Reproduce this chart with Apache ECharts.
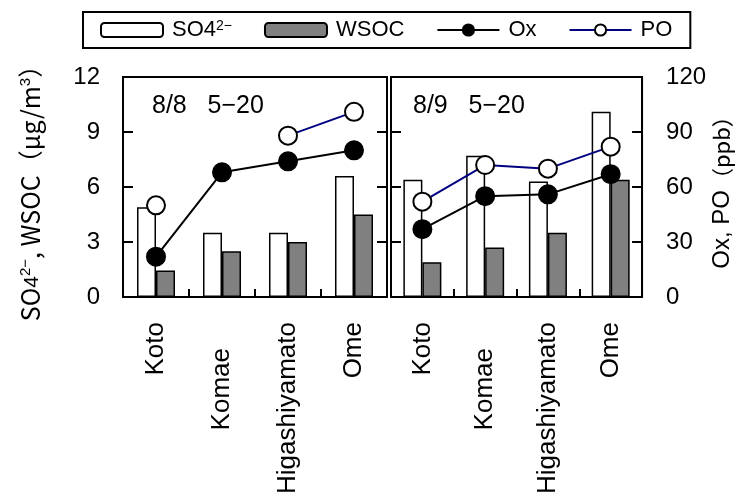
<!DOCTYPE html>
<html>
<head>
<meta charset="utf-8">
<script src="https://cdn.jsdelivr.net/npm/echarts@6/dist/echarts.min.js"></script>
<style>
  html, body { margin: 0; padding: 0; background: #fff; }
  #chart { width: 735px; height: 497px; }
</style>
</head>
<body>
<div id="chart"></div>
<script>
// sites (same order in both panels)
const sites = ['Koto', 'Komae', 'Higashiyamato', 'Ome'];

// 8/8 5-20
const so4Day1 = [4.9, 3.5, 3.5, 6.6];
const wsocDay1 = [1.45, 2.5, 3.0, 4.5];
const oxDay1 = [22, 68, 74, 80];
const poDay1 = [50, null, 88, 101];

// 8/9 5-20
const so4Day2 = [6.4, 7.7, 6.3, 10.1];
const wsocDay2 = [1.9, 2.7, 3.5, 6.4];
const oxDay2 = [37, 55, 56, 67];
const poDay2 = [52, 72, 70, 82];

const panelTitles = ['8/8   5\u221220', '8/9   5\u221220'];
const concTicks = [0, 3, 6, 9, 12];   // left axis, ug/m3
const ppbTicks = [0, 30, 60, 90, 120]; // right axis, ppb

const FONT = '"Liberation Sans", Arial, "Noto Sans CJK JP", sans-serif';
const JP = '"Noto Sans CJK JP", "Liberation Sans", sans-serif';

const myChart = echarts.init(document.getElementById('chart'));

const tickLine = { color: '#000', width: 2 };

function xAxisFor(gridIndex) {
  return {
    type: 'category',
    gridIndex: gridIndex,
    data: sites,
    axisLine: { show: true, lineStyle: { color: '#000', width: 2 } },
    axisTick: { show: true, inside: true, length: 8, lineStyle: tickLine },
    axisLabel: {
      rotate: 90,
      margin: 25,
      color: '#000',
      fontSize: 26,
      fontFamily: FONT,
      formatter: v => v === 'Komae' ? '{k|' + v + '}' : v,
      rich: { k: { fontSize: 26, fontFamily: FONT, color: '#000', padding: [0, 26, 0, 0] } }
    }
  };
}

function yAxisFor(gridIndex, ticks, position, showLabel) {
  return {
    type: 'value',
    gridIndex: gridIndex,
    position: position,
    min: ticks[0],
    max: ticks[ticks.length - 1],
    interval: ticks[1] - ticks[0],
    splitLine: { show: false },
    axisLine: { show: true, lineStyle: { color: '#000', width: 2 } },
    axisTick: { show: true, inside: true, length: 10, lineStyle: tickLine },
    axisLabel: { show: showLabel, color: '#000', fontSize: 24, fontFamily: FONT, margin: position === 'left' ? 23 : 24 }
  };
}

const yAxes = [
  yAxisFor(0, concTicks, 'left', true),
  yAxisFor(0, ppbTicks, 'right', false),
  yAxisFor(1, concTicks, 'left', false),
  yAxisFor(1, ppbTicks, 'right', true)
];
yAxes[0].name = '{n|SO}{sub|4}{sup|2\u2212}{n|, WSOC（μg/m}{sup|3}{n|）}';
yAxes[0].nameLocation = 'middle';
yAxes[0].nameRotate = 90;
yAxes[0].nameGap = 80;
yAxes[0].nameTextStyle = {
  color: '#000',
  rich: {
    n: { fontSize: 25, fontFamily: JP, color: '#000' },
    sub: { fontSize: 21, fontFamily: FONT, color: '#000', verticalAlign: 'bottom' },
    sup: { fontSize: 15, fontFamily: FONT, color: '#000', verticalAlign: 'top' }
  }
};
yAxes[3].name = '{n|Ox, PO}{s|（ppb）}';
yAxes[3].nameLocation = 'middle';
yAxes[3].nameRotate = 90;
yAxes[3].nameGap = 52;
yAxes[3].nameTextStyle = {
  color: '#000',
  rich: {
    n: { fontSize: 24, fontFamily: FONT, color: '#000' },
    s: { fontSize: 22, fontFamily: JP, color: '#000' }
  }
};

function barSeries(name, data, gi, fill) {
  return {
    name: name,
    type: 'bar',
    xAxisIndex: gi,
    yAxisIndex: gi * 2,
    data: data,
    barWidth: 19,
    barGap: '0%',
    itemStyle: { color: fill, borderColor: '#000', borderWidth: 1.5 }
  };
}

function lineSeries(name, data, gi, lineColor, fill) {
  return {
    name: name,
    type: 'line',
    xAxisIndex: gi,
    yAxisIndex: gi * 2 + 1,
    data: data,
    symbol: 'circle',
    symbolSize: 18,
    lineStyle: { color: lineColor, width: 2 },
    itemStyle: { color: fill, borderColor: '#000', borderWidth: 2 },
    z: 5
  };
}

const option = {
  animation: false,
  legend: {
    data: ['SO4', 'WSOC', 'Ox', 'PO'],
    left: 83,
    top: 12,
    padding: [7, 18, 7, 17],
    itemGap: 32,
    itemWidth: 62,
    itemHeight: 14,
    borderColor: '#000',
    borderWidth: 2,
    textStyle: {
      color: '#000',
      fontSize: 22,
      fontFamily: FONT,
      rich: {
        n: { fontSize: 22, fontFamily: FONT, color: '#000', padding: [0, 0, 0, 4] },
        sup: { fontSize: 14, fontFamily: FONT, color: '#000', verticalAlign: 'top', padding: [0, 16, 0, 0] }
      }
    },
    formatter: name => name === 'SO4' ? '{n|SO4}{sup|2\u2212}' : '{n|' + name + '}'
  },
  grid: [
    { left: 123, right: 348, top: 77, bottom: 199.5, show: true, borderColor: '#000', borderWidth: 2 },
    { left: 391, right: 80, top: 77, bottom: 199.5, show: true, borderColor: '#000', borderWidth: 2 }
  ],
  xAxis: [xAxisFor(0), xAxisFor(1)],
  yAxis: yAxes,
  graphic: [
    { type: 'text', left: 152, top: 94, style: { text: panelTitles[0], font: '25px ' + FONT, fill: '#000' } },
    { type: 'text', left: 413, top: 94, style: { text: panelTitles[1], font: '25px ' + FONT, fill: '#000' } }
  ],
  series: [
    barSeries('SO4', so4Day1, 0, '#fff'),
    barSeries('WSOC', wsocDay1, 0, '#808080'),
    lineSeries('Ox', oxDay1, 0, '#000', '#000'),
    lineSeries('PO', poDay1, 0, '#000080', '#fff'),
    barSeries('SO4', so4Day2, 1, '#fff'),
    barSeries('WSOC', wsocDay2, 1, '#808080'),
    lineSeries('Ox', oxDay2, 1, '#000', '#000'),
    lineSeries('PO', poDay2, 1, '#000080', '#fff')
  ]
};

myChart.setOption(option);
</script>
</body>
</html>
